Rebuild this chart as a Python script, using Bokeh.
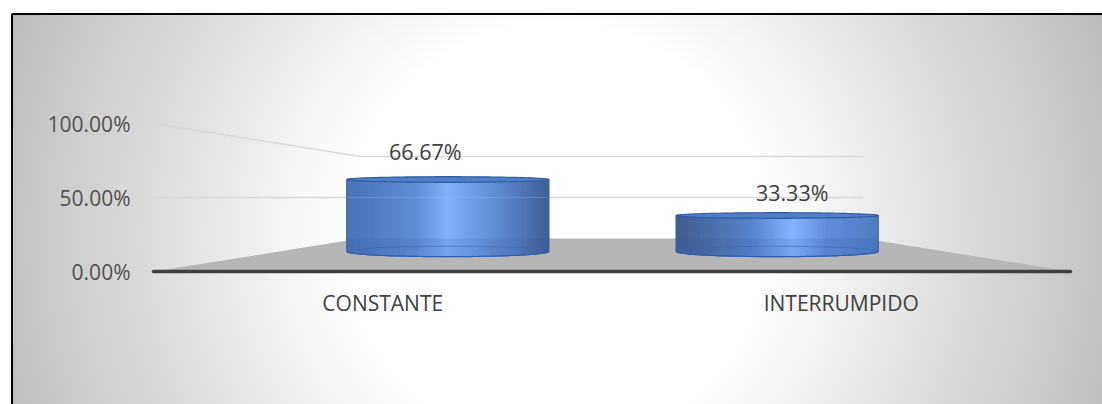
import numpy as np
from bokeh.embed import file_html
from bokeh.resources import INLINE
from bokeh.models import Range1d, LinearAxis, FixedTicker, ColumnDataSource
from bokeh.plotting import figure

categories = ["CONSTANTE", "INTERRUMPIDO"]
values = [66.67, 33.33]
value_labels = ["66.67%", "33.33%"]
y_ticks = [0, 50, 100]
y_tick_labels = ["0.00%", "50.00%", "100.00%"]

W, H = 1102, 404
X0, XSCALE = 153.0, 458.5     # picture x of data 0, px per category
Y0, YSCALE = 271.0, 1.48      # picture y of 0%, px per percent

p = figure(width=W, height=H, output_backend="svg", toolbar_location=None,
           x_range=Range1d(-X0 / XSCALE, (W - X0) / XSCALE),
           y_range=Range1d((Y0 - H) / YSCALE, Y0 / YSCALE),
           min_border=0, x_axis_location=None, y_axis_location=None,
           background_fill_color="white", border_fill_color="white", outline_line_color=None)
p.grid.visible = False


def dx(px):
    return px / XSCALE


def dy(px):
    return px / YSCALE


# --- radial grey panel background
left, top = 12.0, 14.0
step = 2
xs = np.arange(left, W, step) + step / 2
ys = np.arange(H, top, -step) - step / 2
gx, gy = np.meshgrid(xs, ys)
dist = np.hypot(gx - 556, gy - 235)
shade = np.clip(255 - np.maximum(dist - 215, 0) * 0.178, 0, 255).astype(np.uint32)
img = (255 << 24) | (shade << 16) | (shade << 8) | shade
p.image_rgba(image=[img.astype(np.uint32)],
             x=(left - X0) / XSCALE, y=(Y0 - H) / YSCALE,
             dw=(W - left) / XSCALE, dh=(H - top) / YSCALE)

# --- chart border
bx = (11.5 - X0) / XSCALE
by = (Y0 - 13.5) / YSCALE
p.line([bx, bx, (W - X0) / XSCALE], [(Y0 - H) / YSCALE, by, by],
       line_color="black", line_width=2)

# --- 3D box projection
BACK_FLOOR = dy(33)          # height of the back floor edge on the front scale
BACK_SCALE = 82 / 148        # back wall scale vs front scale
BACK_L, BACK_R = dx(207), 2 - dx(207)

for t in y_ticks[1:]:
    yb = BACK_FLOOR + t * BACK_SCALE
    p.line([0, BACK_L, BACK_R], [t, yb, yb], line_color="#d9d9d9", line_width=1.5)

p.patch([0, 2, BACK_R, BACK_L], [0, 0, BACK_FLOOR, BACK_FLOOR], fill_color="#b6b6b6", line_color=None)

# --- cylinders
BASE = dy(20)
HSCALE = 1.08 / YSCALE
HALF = dx(101)
CENTERS = [1 - 0.5 * 0.714 - dx(0.5), 1 + 0.5 * 0.714 + dx(1.5)]
STOPS = [
    ([0, .12, .35, .5, .65, .85, 1], ["#4a74b8", "#4f7cc2", "#5f8dd4", "#82b1fa", "#6a9ae2", "#5279bd", "#3d5f95"]),
    ([0, .2, .4, .58, .75, .9, 1], ["#3f5c8f", "#4a70ad", "#5a88d0", "#84b4ff", "#5f8bd8", "#5683cc", "#4f7ac0"]),
]


def rgb(h):
    return [int(h[i:i + 2], 16) for i in (1, 3, 5)]


tt = np.linspace(0, 2 * np.pi, 121)
for i, v in enumerate(values):
    cx, yb = CENTERS[i], BASE
    yt = BASE + v * HSCALE
    ab, at = dy(5.2), dy(2.8)
    n = 101
    edges = np.linspace(cx - HALF, cx + HALF, n + 1)
    mids = (edges[:-1] + edges[1:]) / 2
    u = (mids - edges[0]) / (edges[-1] - edges[0])
    pos, cols = STOPS[i]
    arr = np.array([rgb(c) for c in cols])
    mixed = [np.interp(u, pos, arr[:, k]).round().astype(int) for k in range(3)]
    fill = ["#%02x%02x%02x" % (r, g, b) for r, g, b in zip(*mixed)]
    s = np.sqrt(np.clip(1 - ((mids - cx) / HALF) ** 2, 0, 1))
    p.quad(left=edges[:-1], right=edges[1:], bottom=yb - ab * s, top=yt,
           fill_color=fill, line_color=fill, line_width=1)

    # darker band in front of the floor, faint wall line showing through
    lx = np.linspace(cx - HALF, cx + HALF, 61)
    ls = np.sqrt(np.clip(1 - ((lx - cx) / HALF) ** 2, 0, 1))
    band_top = BACK_FLOOR
    if band_top < yt:
        p.patch(list(lx) + [cx + HALF, cx - HALF], list(yb - ab * ls) + [band_top, band_top],
                fill_color="#2f5597", fill_alpha=0.13, line_color=None)
    if yt > 50 * BACK_SCALE + BACK_FLOOR:
        p.line([cx - HALF, cx + HALF], [50, 50], line_color="#9db8e0", line_alpha=0.35, line_width=1)

    # base ellipse
    p.line(cx + HALF * np.cos(tt), yb + ab * np.sin(tt), line_color="#3a68b4", line_width=1, line_alpha=0.55)
    p.line(lx, yb - ab * ls, line_color="#2f5fae", line_width=1.2)

    # side edges
    p.line([cx - HALF, cx - HALF], [yb, yt], line_color="#3a639f", line_width=1)
    p.line([cx + HALF, cx + HALF], [yb, yt], line_color="#3a639f", line_width=1)

    # top ellipse
    p.patch(cx + HALF * np.cos(tt), yt + at * np.sin(tt), fill_color="#4f7fc6",
            line_color="#2f5a9f", line_width=1.2)

# --- axes
xaxis = LinearAxis(fixed_location=0, bounds=(0, 2), ticker=FixedTicker(ticks=[0.5, 1.5]),
                   major_label_overrides={0.5: categories[0], 1.5: categories[1]})
xaxis.axis_line_color = "#404040"
xaxis.axis_line_width = 3.5
xaxis.axis_line_cap = "round"
xaxis.major_tick_line_color = None
xaxis.minor_tick_line_color = None
xaxis.major_label_standoff = 11
xaxis.major_label_text_font = "Open Sans"
xaxis.major_label_text_font_size = "21px"
xaxis.major_label_text_color = "#404040"
p.add_layout(xaxis, "below")

yaxis = LinearAxis(fixed_location=0, ticker=FixedTicker(ticks=y_ticks),
                   major_label_overrides=dict(zip(y_ticks, y_tick_labels)))
yaxis.axis_line_color = None
yaxis.major_tick_line_color = None
yaxis.minor_tick_line_color = None
yaxis.major_label_standoff = 17
yaxis.major_label_text_font = "Open Sans"
yaxis.major_label_text_font_size = "21px"
yaxis.major_label_text_color = "#505050"
p.add_layout(yaxis, "left")

# --- value labels
lab = ColumnDataSource(dict(
    x=[c + off for c, off in zip(CENTERS, [dx(-22.5), dx(15)])],
    y=[BASE + v * HSCALE + off for v, off in zip(values, [dy(27.5), dy(23)])],
    t=value_labels))
p.text(x="x", y="y", text="t", source=lab, text_align="center", text_baseline="middle",
       text_font={"value": "Open Sans"}, text_font_size="21.5px", text_color="#404040")

open("out.html", "w").write(file_html(p, INLINE))
